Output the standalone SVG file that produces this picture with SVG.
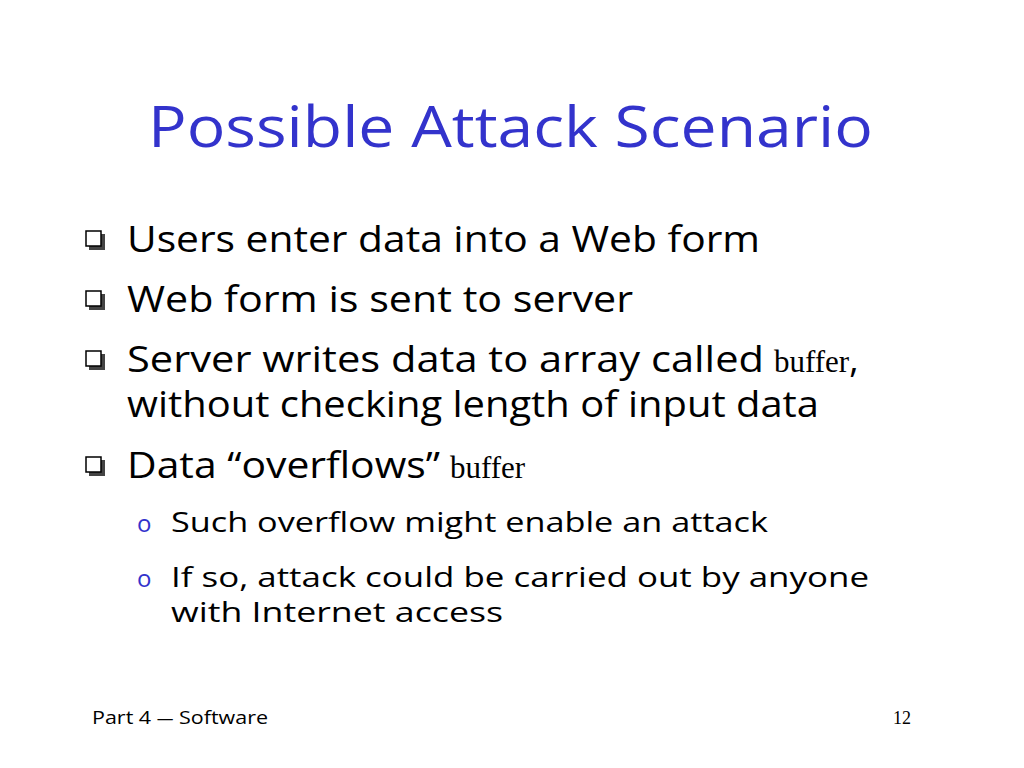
<svg xmlns="http://www.w3.org/2000/svg" width="1024" height="768" viewBox="0 0 1024 768">
<style>
.t{font-family:"Open Sans","DejaVu Sans",sans-serif;fill:#000}
.s{font-family:"Liberation Serif",serif;fill:#000}
.b{fill:#fff;stroke:#000;stroke-width:1.5}
.sh{fill:#444}
</style>
<rect width="1024" height="768" fill="#fff"/>
<text x="148" y="147" font-size="56" fill="#3333cc" font-family="'Open Sans','DejaVu Sans',sans-serif" textLength="725" lengthAdjust="spacingAndGlyphs">Possible Attack Scenario</text>
<g id="bullets">
<rect class="sh" x="89" y="234" width="16" height="16"/><rect class="b" x="86" y="231" width="15" height="15"/>
<rect class="sh" x="89" y="294" width="16" height="16"/><rect class="b" x="86" y="291" width="15" height="15"/>
<rect class="sh" x="89" y="354" width="16" height="16"/><rect class="b" x="86" y="351" width="15" height="15"/>
<rect class="sh" x="89" y="460" width="16" height="16"/><rect class="b" x="86" y="457" width="15" height="15"/>
</g>
<text class="t" x="127" y="252" font-size="36" textLength="633" lengthAdjust="spacingAndGlyphs">Users enter data into a Web form</text>
<text class="t" x="127" y="312" font-size="36" textLength="506" lengthAdjust="spacingAndGlyphs">Web form is sent to server</text>
<text class="t" x="127" y="372" font-size="36" textLength="637" lengthAdjust="spacingAndGlyphs">Server writes data to array called</text>
<text class="s" x="774" y="372" font-size="31">buffer<tspan class="t" font-size="36">,</tspan></text>
<text class="t" x="127" y="417" font-size="36" textLength="692" lengthAdjust="spacingAndGlyphs">without checking length of input data</text>
<text class="t" x="127" y="478" font-size="36" textLength="313" lengthAdjust="spacingAndGlyphs">Data “overflows”</text>
<text class="s" x="450" y="478" font-size="31">buffer</text>
<text x="137" y="532" font-size="24" fill="#3333cc" font-family="'Open Sans',sans-serif">o</text>
<text class="t" x="171" y="532" font-size="28" textLength="597" lengthAdjust="spacingAndGlyphs">Such overflow might enable an attack</text>
<text x="137" y="587" font-size="24" fill="#3333cc" font-family="'Open Sans',sans-serif">o</text>
<text class="t" x="171" y="587" font-size="28" textLength="698" lengthAdjust="spacingAndGlyphs">If so, attack could be carried out by anyone</text>
<text class="t" x="171" y="622" font-size="28" textLength="332" lengthAdjust="spacingAndGlyphs">with Internet access</text>
<text class="t" x="92" y="724" font-size="18" textLength="176" lengthAdjust="spacingAndGlyphs">Part 4 <tspan font-size="14">—</tspan> Software</text>
<text class="s" x="893" y="724" font-size="18">12</text>
</svg>
